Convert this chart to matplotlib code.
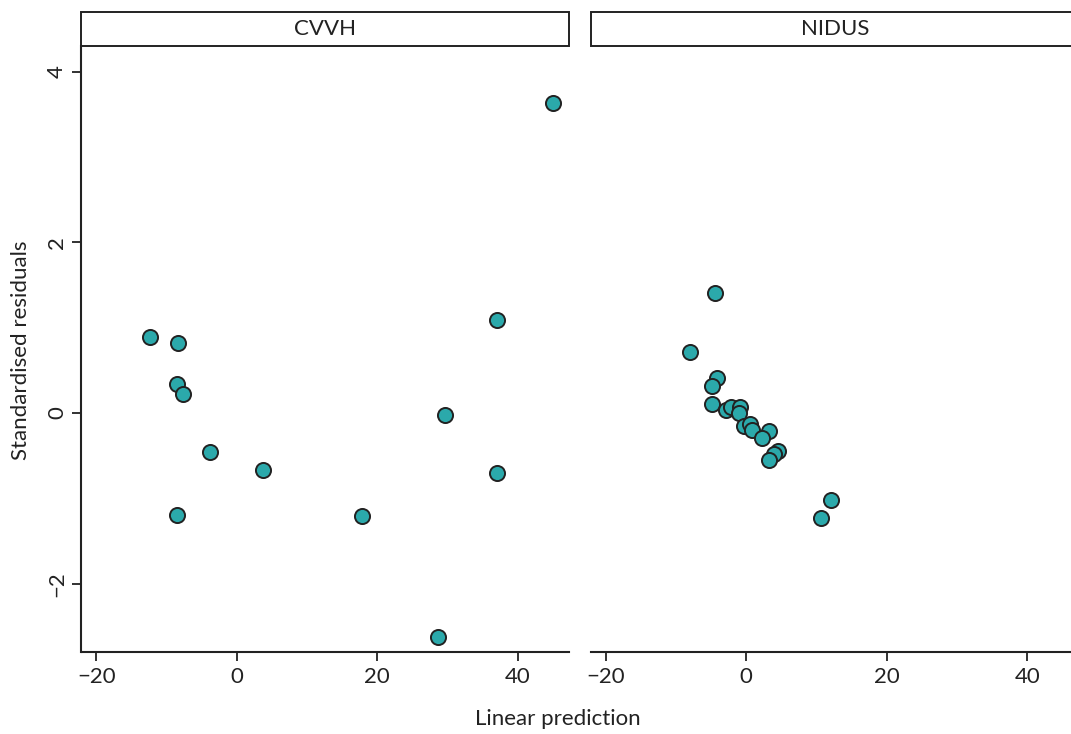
import matplotlib
matplotlib.use("Agg")
import matplotlib.pyplot as plt
from matplotlib.patches import Rectangle

plt.rcParams["font.family"] = ["Lato", "DejaVu Sans"]

# Residuals vs linear prediction, one panel per group
panels = ["CVVH", "NIDUS"]

cvvh_pred = [-12.3, -8.3, -8.5, -7.7, -3.8, 3.8, -8.5, 17.9, 28.6, 29.7, 37.0, 37.0, 45.0]
cvvh_resid = [0.89, 0.82, 0.34, 0.22, -0.46, -0.67, -1.19, -1.21, -2.63, -0.02, 1.09, -0.70, 3.63]

nidus_pred = [-4.5, -8.0, -4.2, -4.9, -4.9, -2.9, -2.1, -0.85, -1.1, -0.3,
              0.5, 0.85, 3.2, 2.2, 4.5, 3.9, 3.3, 12.0, 10.7]
nidus_resid = [1.41, 0.72, 0.41, 0.32, 0.11, 0.03, 0.07, 0.07, 0.0, -0.15,
               -0.13, -0.20, -0.21, -0.29, -0.45, -0.48, -0.55, -1.02, -1.23]

x_ticks = [-20, 0, 20, 40]
y_ticks = [-2, 0, 2, 4]

W, H = 1071, 734
fig = plt.figure(figsize=(W / 100, H / 100), dpi=100)

ink = "#222222"
fill = "#2BA9AB"
fs = 16

def px_axes(x0, y0, x1, y1):
    return fig.add_axes([x0 / W, 1 - y1 / H, (x1 - x0) / W, (y1 - y0) / H])

ax1 = px_axes(81.5, 46, 569, 652)
ax2 = px_axes(591, 46, 1078.5, 652)

data = [(cvvh_pred, cvvh_resid), (nidus_pred, nidus_resid)]
for i, (ax, name, (xs, ys)) in enumerate(zip([ax1, ax2], panels, data)):
    ax.scatter(xs, ys, s=118, c=fill, edgecolors=ink, linewidths=1.4, zorder=3)
    ax.set_xlim(-22.1, 47.3)
    ax.set_ylim(-2.80, 4.30)
    ax.set_xticks(x_ticks)
    ax.set_xticklabels([f"{t}".replace("-", "\u2212") for t in x_ticks])
    for side in ["top", "right"]:
        ax.spines[side].set_visible(False)
    ax.spines["bottom"].set_linewidth(1.5)
    ax.spines["bottom"].set_color(ink)
    ax.tick_params(axis="x", length=6.5, width=1.3, color=ink, labelsize=fs,
                   labelcolor=ink, pad=4)
    if i == 0:
        ax.set_yticks(y_ticks)
        ax.set_yticklabels([f"{t}".replace("-", "\u2212") for t in y_ticks],
                           rotation=90, va="center")
        ax.spines["left"].set_linewidth(1.5)
        ax.spines["left"].set_color(ink)
        ax.tick_params(axis="y", length=6.5, width=1.3, color=ink, labelsize=fs,
                       labelcolor=ink, pad=4)
    else:
        ax.spines["left"].set_visible(False)
        ax.set_yticks([])
    # facet strip
    strip_h = 34 / 606
    ax.add_patch(Rectangle((0, 1), 1, strip_h, transform=ax.transAxes,
                           facecolor="white", edgecolor=ink, linewidth=1.4,
                           clip_on=False))
    ax.text(0.5, 1 + strip_h / 2, name, transform=ax.transAxes, ha="center",
            va="center", fontsize=fs, color=ink)

fig.text(558 / W, 1 - 719 / H, "Linear prediction", ha="center", va="center",
         fontsize=fs, color=ink)
fig.text(21 / W, 1 - 350 / H, "Standardised residuals", ha="center", va="center",
         rotation=90, fontsize=fs, color=ink)

fig.savefig("out.png", dpi=100)
